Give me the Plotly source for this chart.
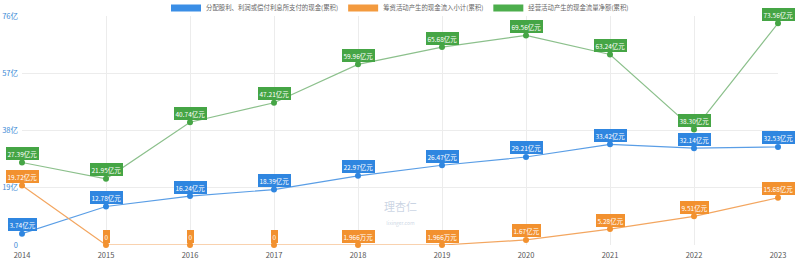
import plotly.graph_objects as go

years = [2014, 2015, 2016, 2017, 2018, 2019, 2020, 2021, 2022, 2023]
dividend_paid = [3.74, 12.78, 16.24, 18.39, 22.97, 26.47, 29.21, 33.42, 32.14, 32.53]
financing_inflow = [19.72, 0, 0, 0, 0.0001966, 0.0001966, 1.67, 5.28, 9.51, 15.68]
operating_cf = [27.39, 21.95, 40.74, 47.21, 59.96, 65.68, 69.56, 63.24, 38.30, 73.56]

series_names = [
    "分配股利、利润或偿付利息所支付的现金(累积)",
    "筹资活动产生的现金流入小计(累积)",
    "经营活动产生的现金流量净额(累积)",
]
y_tickvals = [0, 19, 38, 57, 76]
y_ticktext = ["0", "19亿", "38亿", "57亿", "76亿"]

line_colors = ["#5a9ee6", "#f3a660", "#8cc08c"]
mark_colors = ["#2f86e0", "#f2912f", "#45a545"]
legend_colors = ["#3a8ee6", "#f39a3e", "#4cae4c"]
FONT = "Noto Sans CJK SC"


def fmt(v):
    if v == 0:
        return "0"
    if abs(v) < 0.01:
        return f"{v * 10000:.3f}万元"
    return f"{v:.2f}亿元"


fig = go.Figure()
all_series = [dividend_paid, financing_inflow, operating_cf]
for name, vals, lc, mc, gc in zip(series_names, all_series, line_colors, mark_colors, legend_colors):
    fig.add_trace(go.Scatter(
        x=years, y=vals, mode="lines+markers", name=name, showlegend=False,
        line=dict(color=lc, width=1.2), marker=dict(color=mc, size=6),
        hoverinfo="skip", cliponaxis=False,
    ))
    fig.add_trace(go.Scatter(
        x=[None], y=[None], mode="lines", name=name, showlegend=True,
        line=dict(color=gc, width=7),
    ))
    for x, v in zip(years, vals):
        fig.add_annotation(
            x=x, y=v, xref="x", yref="y", text=fmt(v), showarrow=False,
            yshift=9, bgcolor=mc, bordercolor=mc, borderpad=0.5,
            font=dict(color="white", size=6.5, family=FONT),
        )

fig.add_annotation(
    x=0.5, y=0.07, xref="paper", yref="paper", showarrow=False,
    text="理杏仁<br><span style='font-size:5px'>lixinger.com</span>",
    font=dict(color="rgba(150,170,200,0.5)", size=11, family=FONT),
)

fig.update_layout(
    width=800, height=260,
    margin=dict(l=22, r=22, t=16, b=15, autoexpand=False),
    paper_bgcolor="white", plot_bgcolor="white",
    font=dict(family=FONT, size=8, color="#555"),
    legend=dict(
        orientation="h", x=0.5, xanchor="center", y=1.035, yanchor="middle",
        font=dict(size=6.4, color="#666", family=FONT),
        itemwidth=30, tracegroupgap=0,
        bgcolor="rgba(0,0,0,0)",
    ),
    xaxis=dict(
        range=[2014, 2023], tickvals=years, ticktext=[str(y) for y in years],
        showgrid=True, gridcolor="#ececec", gridwidth=1, zeroline=False,
        showline=False, ticks="", tickfont=dict(size=7.5, color="#555"),
        fixedrange=True, automargin=False, ticklabelstandoff=4,
    ),
    yaxis=dict(
        range=[0, 76], tickvals=y_tickvals, ticktext=y_ticktext,
        showgrid=True, gridcolor="#ececec", gridwidth=1, zeroline=False,
        showline=False, ticks="", tickfont=dict(size=7.5, color="#3d8ad6"),
        fixedrange=True, automargin=False, ticklabelstandoff=3,
    ),
)

fig.write_html("out.html")
